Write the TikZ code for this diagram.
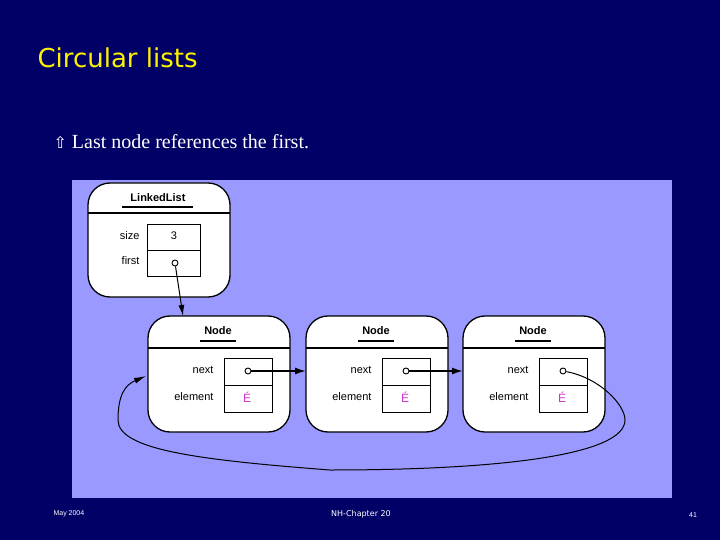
\documentclass[tikz,border=0pt]{standalone}
\usepackage{fontspec}
\setmainfont{Liberation Sans}
\newfontfamily\serif{Liberation Serif}
\newfontfamily\dv{DejaVu Sans}
\usetikzlibrary{arrows.meta}
\definecolor{bg}{HTML}{000066}
\definecolor{panel}{HTML}{9999FF}
\definecolor{mag}{HTML}{CC33CC}
\begin{document}
\begin{tikzpicture}[x=1pt,y=-1pt,
  obj/.style={draw,line width=1.3pt,fill=white,rounded corners=22pt},
  fld/.style={draw,line width=0.9pt,fill=white},
  lbl/.style={font=\fontsize{11}{12}\selectfont,anchor=east},
  hdr/.style={font=\bfseries\fontsize{11}{12}\selectfont},
  ptr/.style={draw,line width=0.9pt,fill=white,circle,inner sep=0pt,minimum size=6pt},
  arr/.style={line width=1.6pt,-{Latex[length=11pt,width=7pt]}}]
\fill[bg] (0,0) rectangle (720,540);
\useasboundingbox (0,0) rectangle (720,540);
\node[anchor=west,text=yellow,font=\dv\fontsize{26}{28}\selectfont] (title) at (34,58) {Circular lists};
\node[anchor=west,text=white,font=\serif\fontsize{20}{22}\selectfont] (bul) at (50,142) {{\dv\fontsize{16}{18}\selectfont ⇧} Last node references the first.};
\fill[panel] (72,180) rectangle (672,498);
% LinkedList
\draw[obj] (88,183) rectangle (230,297);
\draw[line width=1.3pt] (88,213) -- (230,213);
\node[hdr] (llh) at (158,198) {LinkedList};
\draw[line width=1.1pt] (122,207) -- (193,207);
\draw[fld] (147,224) rectangle (200,250);
\draw[fld] (147,250) rectangle (200,276);
\node[lbl] (ls) at (143,236) {size};
\node[lbl] (lf) at (143,261) {first};
\node[font=\fontsize{11}{12}\selectfont] (l3) at (174,236) {3};
\node[ptr] (p0) at (175,263) {};
% nodes
\foreach \i/\x in {1/148,2/306,3/463}{
  \draw[obj] (\x,316) rectangle ++(142,116);
  \draw[line width=1.3pt] (\x,348) -- ++(142,0);
  \node[hdr] (h\i) at (\x+70,331) {Node};
  \draw[line width=1.1pt] (\x+52,341) -- ++(36,0);
  \draw[fld] (\x+76,358) rectangle ++(48,27);
  \draw[fld] (\x+76,385) rectangle ++(48,27);
  \node[lbl] (n\i) at (\x+69,370) {next};
  \node[lbl] (e\i) at (\x+69,397) {element};
  \node[text=mag,font=\fontsize{12}{13}\selectfont] (m\i) at (\x+99,397) {É};
  \node[ptr] (q\i) at (\x+100,371) {};
  \coordinate (L\i) at (\x,371);
}
\coordinate (N1top) at (183,316);
\draw[line width=1pt,-{Latex[length=11pt,width=6pt]}] (p0) -- (N1top);
\draw[arr] (q1) -- (L2);
\draw[arr] (q2) -- (L3);
\coordinate (c1) at (600,375);
\coordinate (c2) at (625,420);
\coordinate (c3) at (330,470);
\coordinate (c4) at (118,420);
\coordinate (L1e) at (146,376);
\draw[line width=1pt,-{Latex[length=12pt,width=6pt]}] (q3) .. controls (600,378) and (625,405) .. (c2)
  .. controls (625,455) and (500,470) .. (c3)
  .. controls (200,460) and (118,450) .. (c4)
  .. controls (118,395) and (125,385) .. (L1e);
\node[text=white,font=\fontsize{7}{8}\selectfont,anchor=west] (f1) at (50,514) {May 2004};
\node[text=white,font=\dv\fontsize{8}{9}\selectfont] (f2) at (361,514) {NH-Chapter 20};
\node[text=white,font=\fontsize{7}{8}\selectfont] (f3) at (693,515) {41};
\end{tikzpicture}
\end{document}
